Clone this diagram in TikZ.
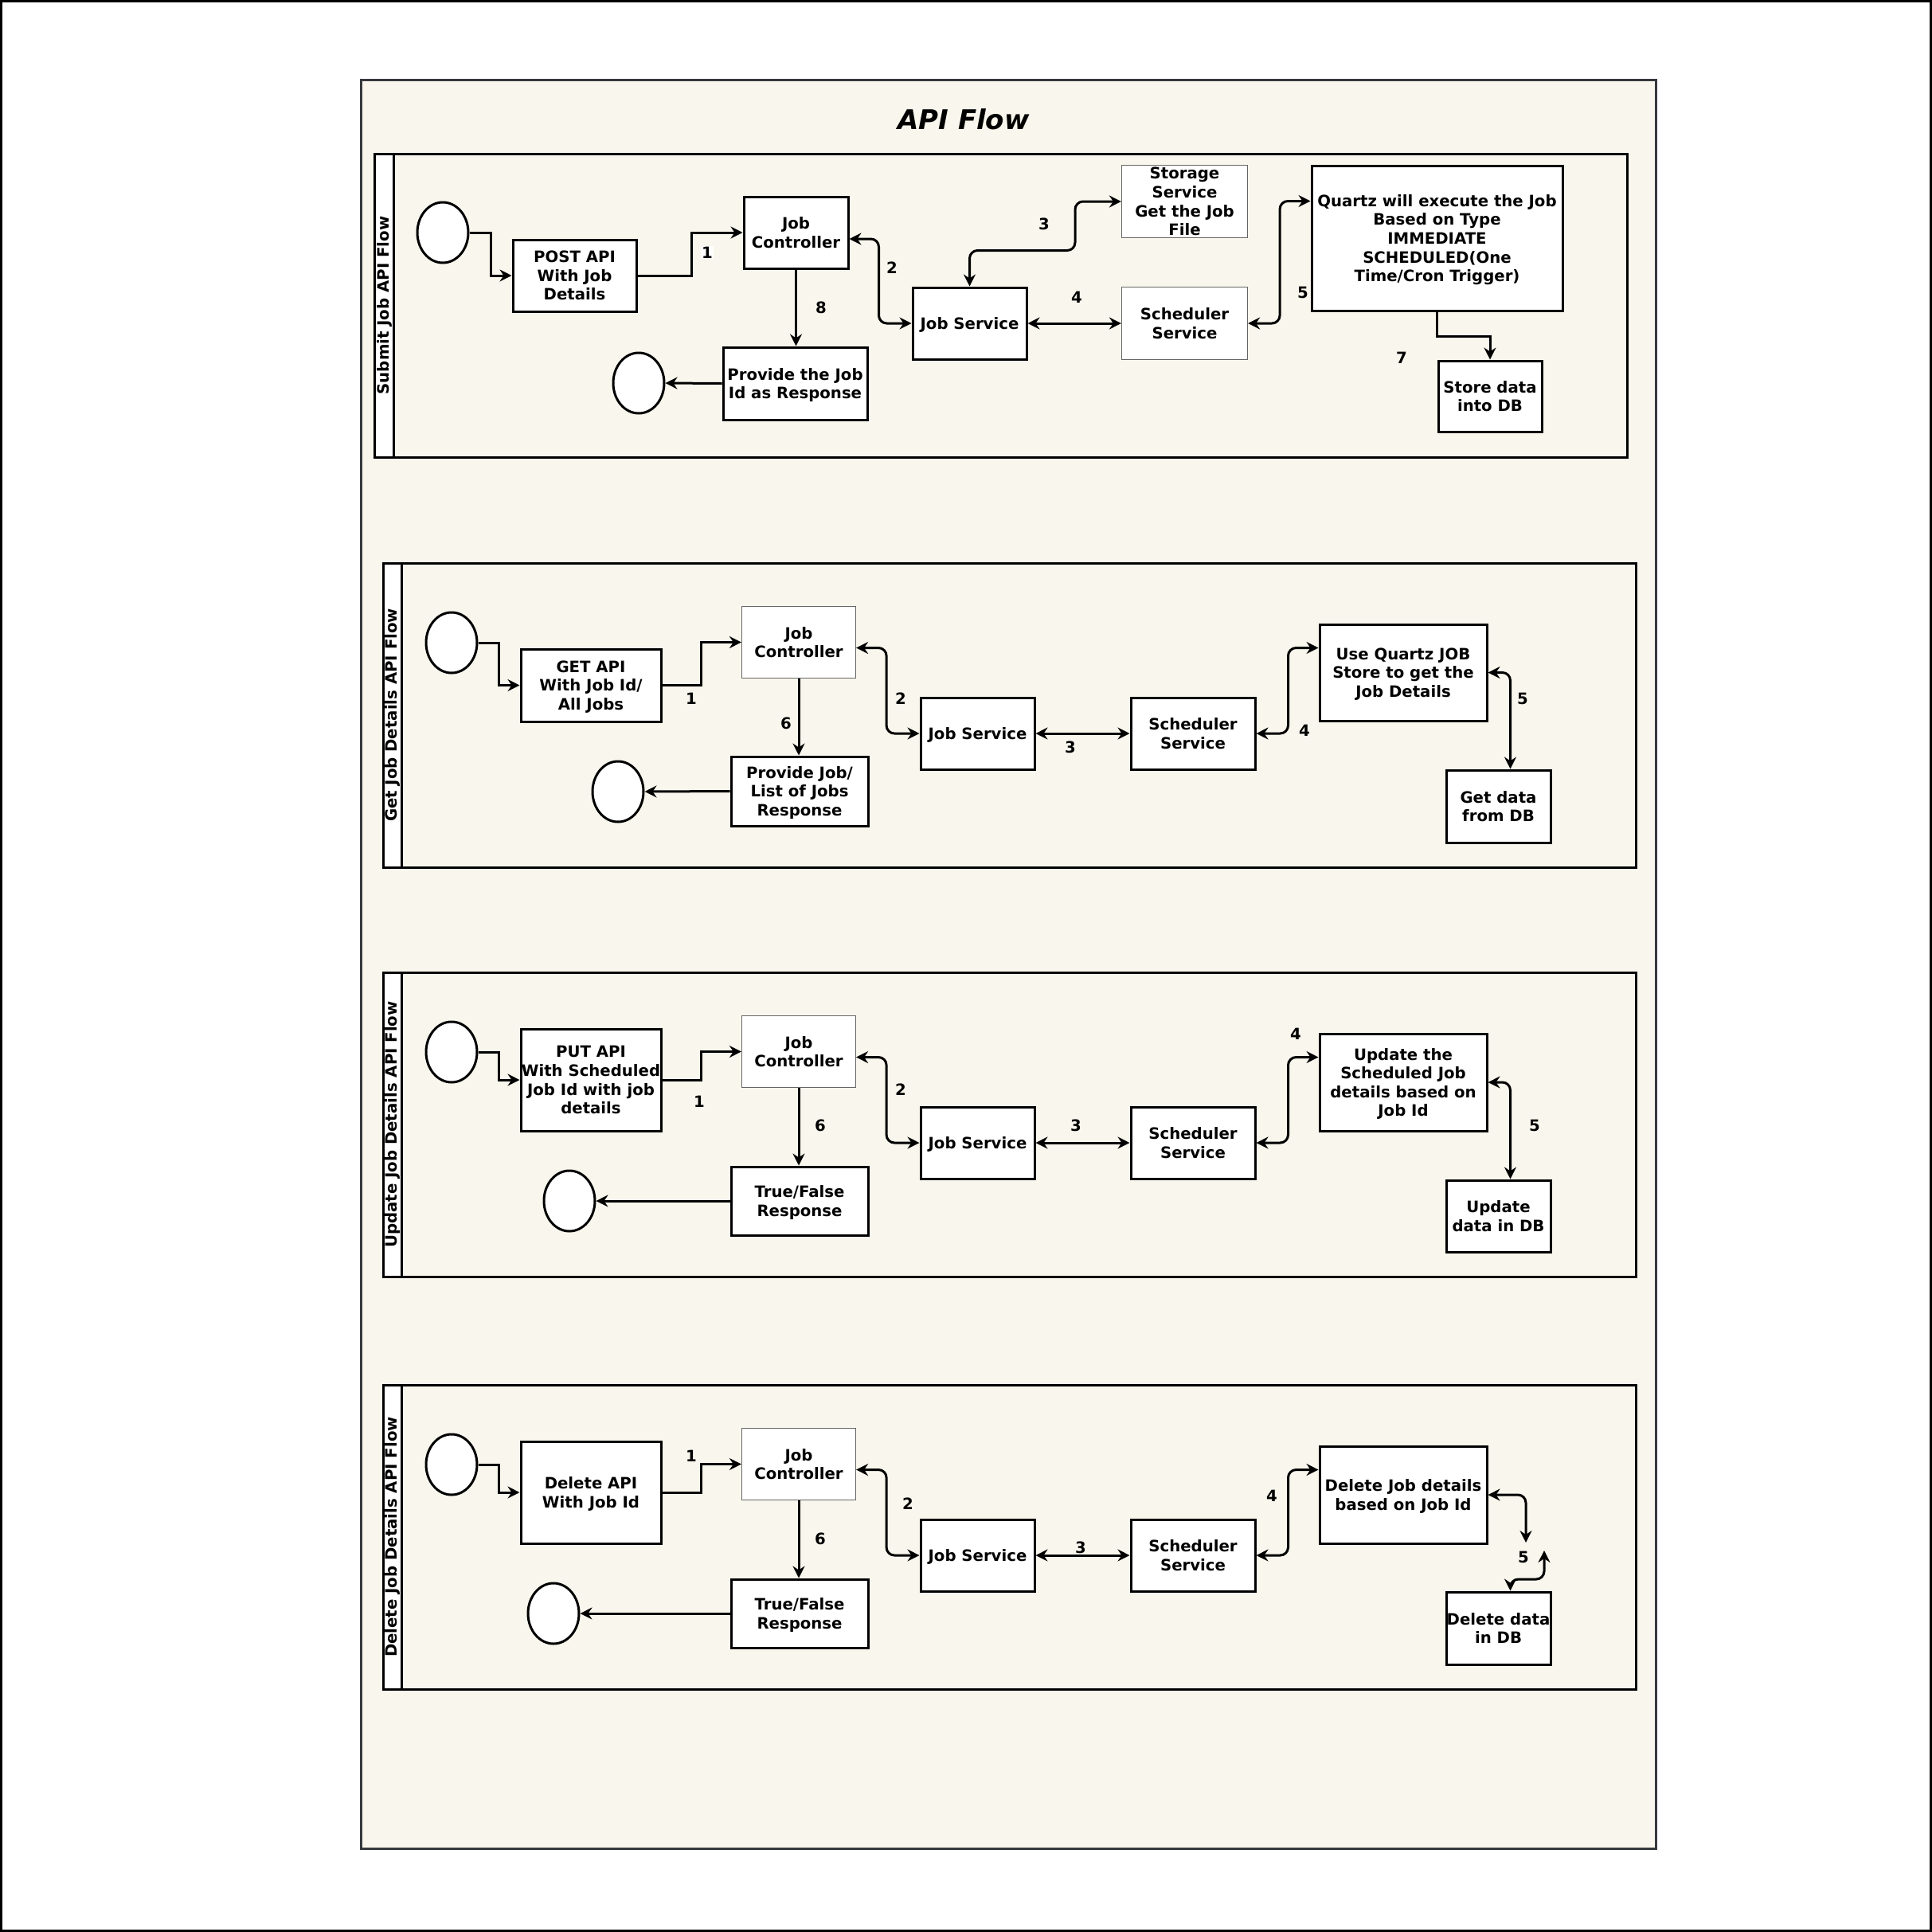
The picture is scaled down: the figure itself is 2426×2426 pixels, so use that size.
\documentclass[tikz,border=0pt]{standalone}
\usepackage{fontspec}
\setmainfont{DejaVu Sans}
\usetikzlibrary{arrows.meta,shapes.geometric}

\definecolor{cream}{HTML}{F9F7ED}
\definecolor{frame}{HTML}{36393D}

\tikzset{
	txt/.style={font=\bfseries\fontsize{19.7}{23.6}\selectfont},
	box/.style={txt, draw, line width=3pt, fill=white, align=center, inner sep=0pt, text depth=0pt},
	thinbox/.style={box, draw=black!60, line width=1.2pt},
	term/.style={draw, ellipse, line width=3pt, fill=white, minimum width=64pt, minimum height=76pt, inner sep=0pt},
	lanetext/.style={txt, rotate=90, inner sep=0pt},
	num/.style={txt, inner sep=1pt},
	flow/.style={line width=3pt, -{Stealth[length=15pt, width=15pt, inset=5pt]}},
	twoway/.style={line width=3pt, rounded corners=10pt, {Stealth[length=15pt, width=15pt, inset=5pt]}-{Stealth[length=15pt, width=15pt, inset=5pt]}}
}

\begin{document}
\begin{tikzpicture}[x=1pt, y=-1pt]
	\useasboundingbox (0,0) rectangle (2426,2426);
	\fill[white] (0,0) rectangle (2426,2426);
	\draw[line width=3pt] (1.5,1.5) rectangle (2424.5,2424.5);
	\filldraw[fill=cream, draw=frame, line width=3pt] (453,100) rectangle (2079,2321);
	\node[font=\bfseries\itshape\fontsize{34}{40}\selectfont, anchor=base] (title) at (1210,162) {API Flow};

	% submit job pool
	\draw[line width=3pt] (470,193) rectangle (2043,574);
	\filldraw[fill=white, line width=3pt] (470,193) rectangle (494,574);
	\node[lanetext] (lane1) at (483,383.5) {Submit Job API Flow};

	\node[term] (s1) at (556,292) {};
	\node[box, minimum width=155pt, minimum height=90pt] (api1) at (721.5,346) {POST API\\With Job\\Details};
	\node[box, minimum width=131pt, minimum height=90pt] (jc1) at (999.5,292) {Job\\Controller};
	\node[box, minimum width=181pt, minimum height=91pt] (resp1) at (998.5,481.5) {Provide the Job\\Id as Response};
	\node[term] (end1) at (802,481) {};
	\node[box, minimum width=143pt, minimum height=90pt] (js1) at (1217.5,406) {Job Service};
	\node[thinbox, minimum width=158pt, minimum height=91pt] (stor1) at (1487.5,253) {Storage\\Service\\Get the Job\\File};
	\node[thinbox, minimum width=158pt, minimum height=91pt] (sch1) at (1487.5,406) {Scheduler\\Service};
	\node[box, minimum width=315pt, minimum height=182pt] (qz1) at (1804.5,299) {Quartz will execute the Job\\Based on Type\\IMMEDIATE\\SCHEDULED(One\\Time/Cron Trigger)};
	\node[box, minimum width=130pt, minimum height=89pt] (db1) at (1871,497.5) {Store data\\into DB};

	\draw[flow] (s1.east) -- ++(27,0) |- (api1.west);
	\draw[flow] (api1.east) -- ++(68,0) |- (jc1.west);
	\draw[flow] (jc1.south) -- (jc1.south |- resp1.north);
	\draw[flow] (resp1.west) -- (end1.east);
	\draw[twoway] ([yshift=-8pt]jc1.east) -- ++(37,0) |- (js1.west);
	\draw[twoway] (js1.north) -- ++(0,-45) -- ++(132.5,0) |- (stor1.west);
	\draw[twoway] (js1.east) -- (sch1.west);
	\draw[twoway] (sch1.east) -- ++(40,0) |- ([yshift=-46pt]qz1.north west);
	\draw[flow] (qz1.south) -- ++(0,31) -| (db1.north);

	% get, update and delete pools
	\node[box, minimum width=176pt, minimum height=91pt] (api2) at (742,860.5) {GET API\\With Job Id/\\All Jobs};
	\node[box, minimum width=172pt, minimum height=87pt] (resp2) at (1004,993.5) {Provide Job/\\List of Jobs\\Response};
	\node[term] (end2) at (776,994) {};
	\node[box, minimum width=210pt, minimum height=121pt] (qz2) at (1762,844.5) {Use Quartz JOB\\Store to get the\\Job Details};
	\node[box, minimum width=131pt, minimum height=91pt] (db2) at (1881.5,1012.5) {Get data\\from DB};

	\node[box, minimum width=176pt, minimum height=128pt] (api3) at (742,1356) {PUT API\\With Scheduled\\Job Id with job\\details};
	\node[box, minimum width=172pt, minimum height=86pt] (resp3) at (1004,1508) {True/False\\Response};
	\node[term] (end3) at (715,1508) {};
	\node[box, minimum width=210pt, minimum height=122pt] (qz3) at (1762,1359) {Update the\\Scheduled Job\\details based on\\Job Id};
	\node[box, minimum width=131pt, minimum height=90pt] (db3) at (1881.5,1527) {Update\\data in DB};

	\node[box, minimum width=176pt, minimum height=128pt] (api4) at (742,1874) {Delete API\\With Job Id};
	\node[box, minimum width=172pt, minimum height=86pt] (resp4) at (1004,2026) {True/False\\Response};
	\node[term] (end4) at (695,2026) {};
	\node[box, minimum width=210pt, minimum height=122pt] (qz4) at (1762,1877) {Delete Job details\\based on Job Id};
	\node[box, minimum width=131pt, minimum height=91pt] (db4) at (1881.5,2044.5) {Delete data\\in DB};

	\foreach \p/\dy/\name in {2/0/Get, 3/514/Update, 4/1032/Delete} {
		\draw[line width=3pt] (481,{707+\dy}) rectangle (2054,{1089+\dy});
		\filldraw[fill=white, line width=3pt] (481,{707+\dy}) rectangle (504,{1089+\dy});
		\node[lanetext] (lane\p) at (493,{898+\dy}) {\name{} Job Details API Flow};

		\node[term] (s\p) at (567,{807+\dy}) {};
		\node[thinbox, minimum width=143pt, minimum height=90pt] (jc\p) at (1003,{806.5+\dy}) {Job\\Controller};
		\node[box, minimum width=143pt, minimum height=90pt] (js\p) at (1227.5,{921+\dy}) {Job Service};
		\node[box, minimum width=156pt, minimum height=90pt] (sch\p) at (1498,{921+\dy}) {Scheduler\\Service};

		\draw[flow] (s\p.east) -- ++(26,0) |- (api\p.west);
		\draw[flow] (api\p.east) -- ++(49,0) |- (jc\p.west);
		\draw[flow] (jc\p.south) -- (jc\p.south |- resp\p.north);
		\draw[flow] (resp\p.west) -- (end\p.east);
		\draw[twoway] ([yshift=-7pt]jc\p.east) -- ++(38,0) |- (js\p.west);
		\draw[twoway] (js\p.east) -- (sch\p.west);
		\draw[twoway] (sch\p.east) -- ++(40,0) |- ([yshift=-31pt]qz\p.north west);
	}

	\draw[twoway] (qz2.east) -| ([xshift=15pt]db2.north);
	\draw[twoway] (qz3.east) -| ([xshift=15pt]db3.north);

	% split connector of the delete pool
	\coordinate (d5a) at (1916,1937);
	\coordinate (d5b) at (1939,1947);
	\draw[twoway] (qz4.east) -| (d5a);
	\draw[twoway] (d5b) -- ++(0,36) -| ([xshift=15pt]db4.north);

	% step numbers
	\node[num, fill=white] (n1a) at (888,317) {1};
	\foreach \nm/\t/\x/\y in {n1b/2/1120/336, n1c/8/1031/386, n1d/3/1311/281, n1e/4/1352/373, n1f/5/1636/367, n1g/7/1760/449,
		n2a/1/868/877, n2b/2/1131/877, n2c/6/987/908, n2d/3/1344/938, n2e/4/1638/917, n2f/5/1912/877,
		n3a/1/878/1383, n3b/2/1131/1368, n3c/6/1030/1413, n3d/3/1351/1413, n3e/4/1627/1298, n3f/5/1927/1413,
		n4a/1/868/1828, n4b/2/1140/1888, n4c/6/1030/1932, n4d/3/1357/1943, n4e/4/1597/1878, n4f/5/1913/1955}
		\node[num] (\nm) at (\x,\y) {\t};
\end{tikzpicture}
\end{document}
